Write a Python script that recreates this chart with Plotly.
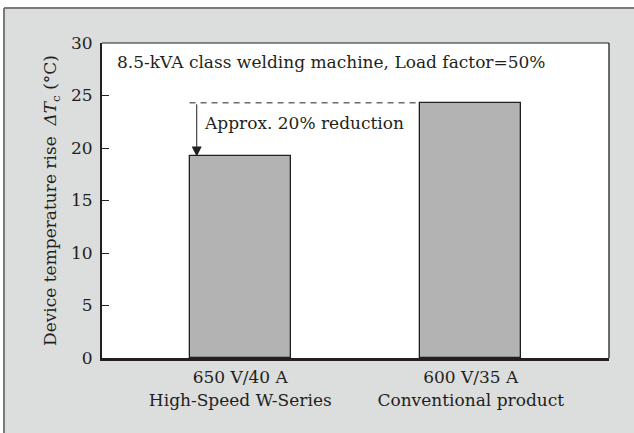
import plotly.graph_objects as go

categories = ["650 V/40 A<br>High-Speed W-Series", "600 V/35 A<br>Conventional product"]
temp_rise = [19.2, 24.3]
y_ticks = [0, 5, 10, 15, 20, 25, 30]
note_title = "8.5-kVA class welding machine, Load factor=50%"
note_reduction = "Approx. 20% reduction"

FONT = "DejaVu Serif"
FS = 17
INK = "#231f20"
FRAME = "#7a7a7a"
BAR_W = 0.44

W, H = 634, 433
ML, MR, MT, MB = 102, 25, 43, 75
PW, PH = W - ML - MR, H - MT - MB
FRAME_X, FRAME_Y = 4, 8   # grey panel starts here (pixels from top-left)

fig = go.Figure()
fig.add_trace(go.Bar(
    x=[0, 1], y=temp_rise, width=BAR_W,
    marker=dict(color="#b3b3b3", line=dict(color=INK, width=1.3)),
    hoverinfo="skip",
))

# dashed reference line from bar1 left edge to bar2 left edge at bar2 height
fig.add_shape(type="line", xref="x", yref="y",
              x0=0 - BAR_W / 2, x1=1 - BAR_W / 2, y0=temp_rise[1], y1=temp_rise[1],
              line=dict(color=INK, width=1, dash="6px,5px"))

arrow_x = -BAR_W / 2 + 0.031
fig.add_annotation(x=arrow_x, y=temp_rise[0], ax=arrow_x, ay=temp_rise[1],
                   xref="x", yref="y", axref="x", ayref="y", text="",
                   showarrow=True, arrowhead=2, arrowsize=2, arrowwidth=1,
                   arrowcolor=INK, standoff=0)

fig.add_annotation(x=-0.168, y=22.4, xref="x", yref="y", text=note_reduction,
                   showarrow=False, xanchor="left", yanchor="middle",
                   font=dict(family=FONT, size=FS, color=INK))
fig.add_annotation(x=0.026, y=28.2, xref="paper", yref="y", text=note_title,
                   showarrow=False, xanchor="left", yanchor="middle",
                   font=dict(family=FONT, size=FS, color=INK))

# white surround outside the grey panel, and the panel's grey border
px = lambda p: (p - ML) / PW          # pixel x -> paper x
py = lambda p: 1 - (p - MT) / PH      # pixel y -> paper y
fig.add_shape(type="rect", xref="paper", yref="paper", x0=px(0), x1=px(FRAME_X),
              y0=py(H), y1=py(0), fillcolor="white", line_width=0, layer="below")
fig.add_shape(type="rect", xref="paper", yref="paper", x0=px(0), x1=px(W),
              y0=py(FRAME_Y), y1=py(0), fillcolor="white", line_width=0, layer="below")
fig.add_shape(type="line", xref="paper", yref="paper", x0=px(FRAME_X), x1=px(W),
              y0=py(FRAME_Y), y1=py(FRAME_Y), line=dict(color=FRAME, width=2), layer="below")
fig.add_shape(type="line", xref="paper", yref="paper", x0=px(FRAME_X), x1=px(FRAME_X),
              y0=py(H), y1=py(FRAME_Y), line=dict(color=FRAME, width=2), layer="below")

fig.update_layout(
    width=W, height=H,
    margin=dict(l=ML, r=MR, t=MT, b=MB, pad=0),
    paper_bgcolor="#dcdddd", plot_bgcolor="white",
    showlegend=False, bargap=0,
    font=dict(family=FONT, size=FS, color=INK),
    xaxis=dict(
        range=[-0.6, 1.6], tickmode="array", tickvals=[0, 1], ticktext=categories,
        showgrid=False, zeroline=False, ticks="", showline=True, linecolor=INK,
        linewidth=3, automargin=False,
        tickfont=dict(family=FONT, size=FS, color=INK), ticklabelstandoff=2,
    ),
    yaxis=dict(
        range=[0, 30], tickmode="array", tickvals=y_ticks,
        showgrid=False, zeroline=False, ticks="inside", ticklen=7, tickwidth=1.3,
        tickcolor=INK, showline=True, linecolor=INK, linewidth=2, automargin=False,
        tickfont=dict(family=FONT, size=FS, color=INK), ticklabelstandoff=4,
        title=dict(text="Device temperature rise  <i>ΔT</i><sub>c</sub> (°C)",
                   font=dict(family=FONT, size=FS, color=INK), standoff=10),
    ),
)
# thin top/right frame of plot area
fig.add_shape(type="line", xref="paper", yref="paper", x0=0, x1=1, y0=1, y1=1,
              line=dict(color=INK, width=1))
fig.add_shape(type="line", xref="paper", yref="paper", x0=1, x1=1, y0=0, y1=1,
              line=dict(color=INK, width=1.3))

fig.write_html(
    "out.html",
    config={"displayModeBar": False},
    post_script="document.body.style.margin='0';document.body.style.overflow='hidden';",
)
